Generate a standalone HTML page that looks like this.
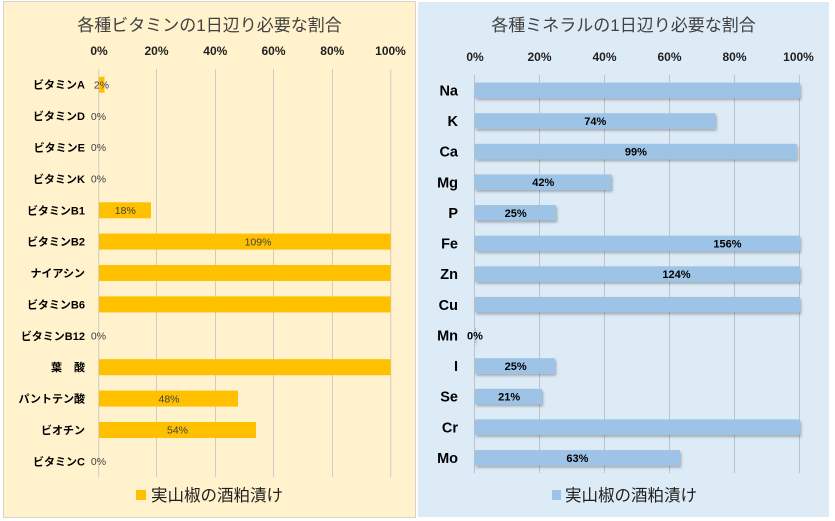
<!DOCTYPE html>
<html>
<head>
<meta charset="utf-8">
<style>
  html, body { margin:0; padding:0; background:#ffffff; }
  body { width:835px; height:521px; overflow:hidden; }
  svg { display:block; }
  text { font-family:"Liberation Sans","Noto Sans CJK JP",sans-serif; }
</style>
</head>
<body>
<svg width="835" height="521" viewBox="0 0 835 521" xmlns="http://www.w3.org/2000/svg">
  <defs>
    <filter id="sh" x="-5%" y="-40%" width="110%" height="200%">
      <feDropShadow dx="1.2" dy="2" stdDeviation="1.2" flood-color="#000" flood-opacity="0.28"/>
    </filter>
  </defs>

  <!-- LEFT PANEL -->
  <rect x="3.5" y="1.5" width="412" height="516" fill="#FFF2CC" stroke="#D6D3CC" stroke-width="1"/>
  <text x="209.5" y="31" font-size="17" fill="#404040" text-anchor="middle">各種ビタミンの1日辺り必要な割合</text>

  <!-- left ticks -->
  <g font-size="12" font-weight="bold" fill="#1f1f1f" text-anchor="middle">
    <text x="99" y="55">0%</text>
    <text x="156.5" y="55">20%</text>
    <text x="215.3" y="55">40%</text>
    <text x="273.5" y="55">60%</text>
    <text x="332.3" y="55">80%</text>
    <text x="390.5" y="55">100%</text>
  </g>
  <!-- left gridlines -->
  <g stroke="#CFCCC6" stroke-width="1">
    <line x1="98.7" y1="69" x2="98.7" y2="477"/>
    <line x1="156.5" y1="69" x2="156.5" y2="477"/>
    <line x1="215.5" y1="69" x2="215.5" y2="477"/>
    <line x1="273.5" y1="69" x2="273.5" y2="477"/>
    <line x1="332.5" y1="69" x2="332.5" y2="477"/>
    <line x1="390.7" y1="69" x2="390.7" y2="477"/>
  </g>
  <!-- left bars -->
  <g fill="#FFC000">
    <rect x="99" y="76.7" width="5.5" height="16"/>
    <rect x="99" y="202.3" width="52" height="16"/>
    <rect x="99" y="233.6" width="291.7" height="16"/>
    <rect x="99" y="265" width="291.7" height="16"/>
    <rect x="99" y="296.4" width="291.7" height="16"/>
    <rect x="99" y="359.2" width="291.7" height="16"/>
    <rect x="99" y="390.6" width="139" height="16"/>
    <rect x="99" y="422" width="157" height="16"/>
  </g>
  <!-- left data labels -->
  <g font-size="10.5" fill="#404040" text-anchor="middle">
    <text x="101.5" y="88.4">2%</text>
    <text x="98.5" y="119.8">0%</text>
    <text x="98.5" y="151.2">0%</text>
    <text x="98.5" y="182.6">0%</text>
    <text x="125.3" y="214">18%</text>
    <text x="258" y="245.3">109%</text>
    <text x="98.5" y="339.5">0%</text>
    <text x="169" y="402.3">48%</text>
    <text x="177.5" y="433.7">54%</text>
    <text x="98.5" y="465">0%</text>
  </g>
  <!-- left categories -->
  <g font-size="11" font-weight="bold" fill="#000" text-anchor="end">
    <text x="85" y="88.7">ビタミンA</text>
    <text x="85" y="120.1">ビタミンD</text>
    <text x="85" y="151.5">ビタミンE</text>
    <text x="85" y="182.9">ビタミンK</text>
    <text x="85" y="214.3">ビタミンB1</text>
    <text x="85" y="245.6">ビタミンB2</text>
    <text x="85" y="277">ナイアシン</text>
    <text x="85" y="308.4">ビタミンB6</text>
    <text x="85" y="339.8">ビタミンB12</text>
    <text x="62" y="371.2">葉</text>
    <text x="85" y="371.2">酸</text>
    <text x="85" y="402.6">パントテン酸</text>
    <text x="85" y="434">ビオチン</text>
    <text x="85" y="465.3">ビタミンC</text>
  </g>
  <!-- left legend -->
  <rect x="136" y="490" width="10" height="10" fill="#FFC000"/>
  <text x="151" y="501" font-size="16.5" fill="#1f1f1f">実山椒の酒粕漬け</text>

  <!-- RIGHT PANEL -->
  <rect x="418" y="2" width="411" height="515" fill="#DDEBF7"/>
  <text x="623.5" y="31" font-size="17" fill="#404040" text-anchor="middle">各種ミネラルの1日辺り必要な割合</text>

  <!-- right ticks -->
  <g font-size="12" font-weight="bold" fill="#1f1f1f" text-anchor="middle">
    <text x="475" y="61">0%</text>
    <text x="539.5" y="61">20%</text>
    <text x="604.5" y="61">40%</text>
    <text x="669.5" y="61">60%</text>
    <text x="734.5" y="61">80%</text>
    <text x="798.5" y="61">100%</text>
  </g>
  <!-- right gridlines -->
  <g stroke="#BFC2C6" stroke-width="1">
    <line x1="474.5" y1="75" x2="474.5" y2="473"/>
    <line x1="539.5" y1="75" x2="539.5" y2="473"/>
    <line x1="604.5" y1="75" x2="604.5" y2="473"/>
    <line x1="669.5" y1="75" x2="669.5" y2="473"/>
    <line x1="734.5" y1="75" x2="734.5" y2="473"/>
    <line x1="799.5" y1="75" x2="799.5" y2="473"/>
  </g>
  <!-- right bars -->
  <g fill="#9DC3E6" filter="url(#sh)">
    <rect x="475" y="82.6" width="325" height="15.5"/>
    <rect x="475" y="113.2" width="240.5" height="15.5"/>
    <rect x="475" y="143.8" width="321.7" height="15.5"/>
    <rect x="475" y="174.4" width="136.5" height="15.5"/>
    <rect x="475" y="205" width="81" height="15.5"/>
    <rect x="475" y="235.7" width="325" height="15.5"/>
    <rect x="475" y="266.3" width="325" height="15.5"/>
    <rect x="475" y="296.9" width="325" height="15.5"/>
    <rect x="475" y="327.5" width="0.8" height="15.5"/>
    <rect x="475" y="358.2" width="80" height="15.5"/>
    <rect x="475" y="388.8" width="67" height="15.5"/>
    <rect x="475" y="419.4" width="325" height="15.5"/>
    <rect x="475" y="450.1" width="205" height="15.5"/>
  </g>
  <!-- right data labels -->
  <g font-size="11" font-weight="bold" fill="#000" text-anchor="middle">
    <text x="595.3" y="124.9">74%</text>
    <text x="635.9" y="155.5">99%</text>
    <text x="543.3" y="186.2">42%</text>
    <text x="515.6" y="216.8">25%</text>
    <text x="727.5" y="247.4">156%</text>
    <text x="676.5" y="278">124%</text>
    <text x="475" y="339.3">0%</text>
    <text x="515.6" y="369.9">25%</text>
    <text x="509.1" y="400.5">21%</text>
    <text x="577.4" y="461.8">63%</text>
  </g>
  <!-- right categories -->
  <g font-size="14.5" font-weight="bold" fill="#000" text-anchor="end">
    <text x="458" y="95.5">Na</text>
    <text x="458" y="126.1">K</text>
    <text x="458" y="156.7">Ca</text>
    <text x="458" y="187.4">Mg</text>
    <text x="458" y="218">P</text>
    <text x="458" y="248.6">Fe</text>
    <text x="458" y="279.2">Zn</text>
    <text x="458" y="309.9">Cu</text>
    <text x="458" y="340.5">Mn</text>
    <text x="458" y="371.1">I</text>
    <text x="458" y="401.7">Se</text>
    <text x="458" y="432.4">Cr</text>
    <text x="458" y="463">Mo</text>
  </g>
  <!-- right legend -->
  <rect x="552" y="490" width="9" height="10" fill="#9DC3E6"/>
  <text x="565" y="501" font-size="16.5" fill="#1f1f1f">実山椒の酒粕漬け</text>
</svg>
</body>
</html>
